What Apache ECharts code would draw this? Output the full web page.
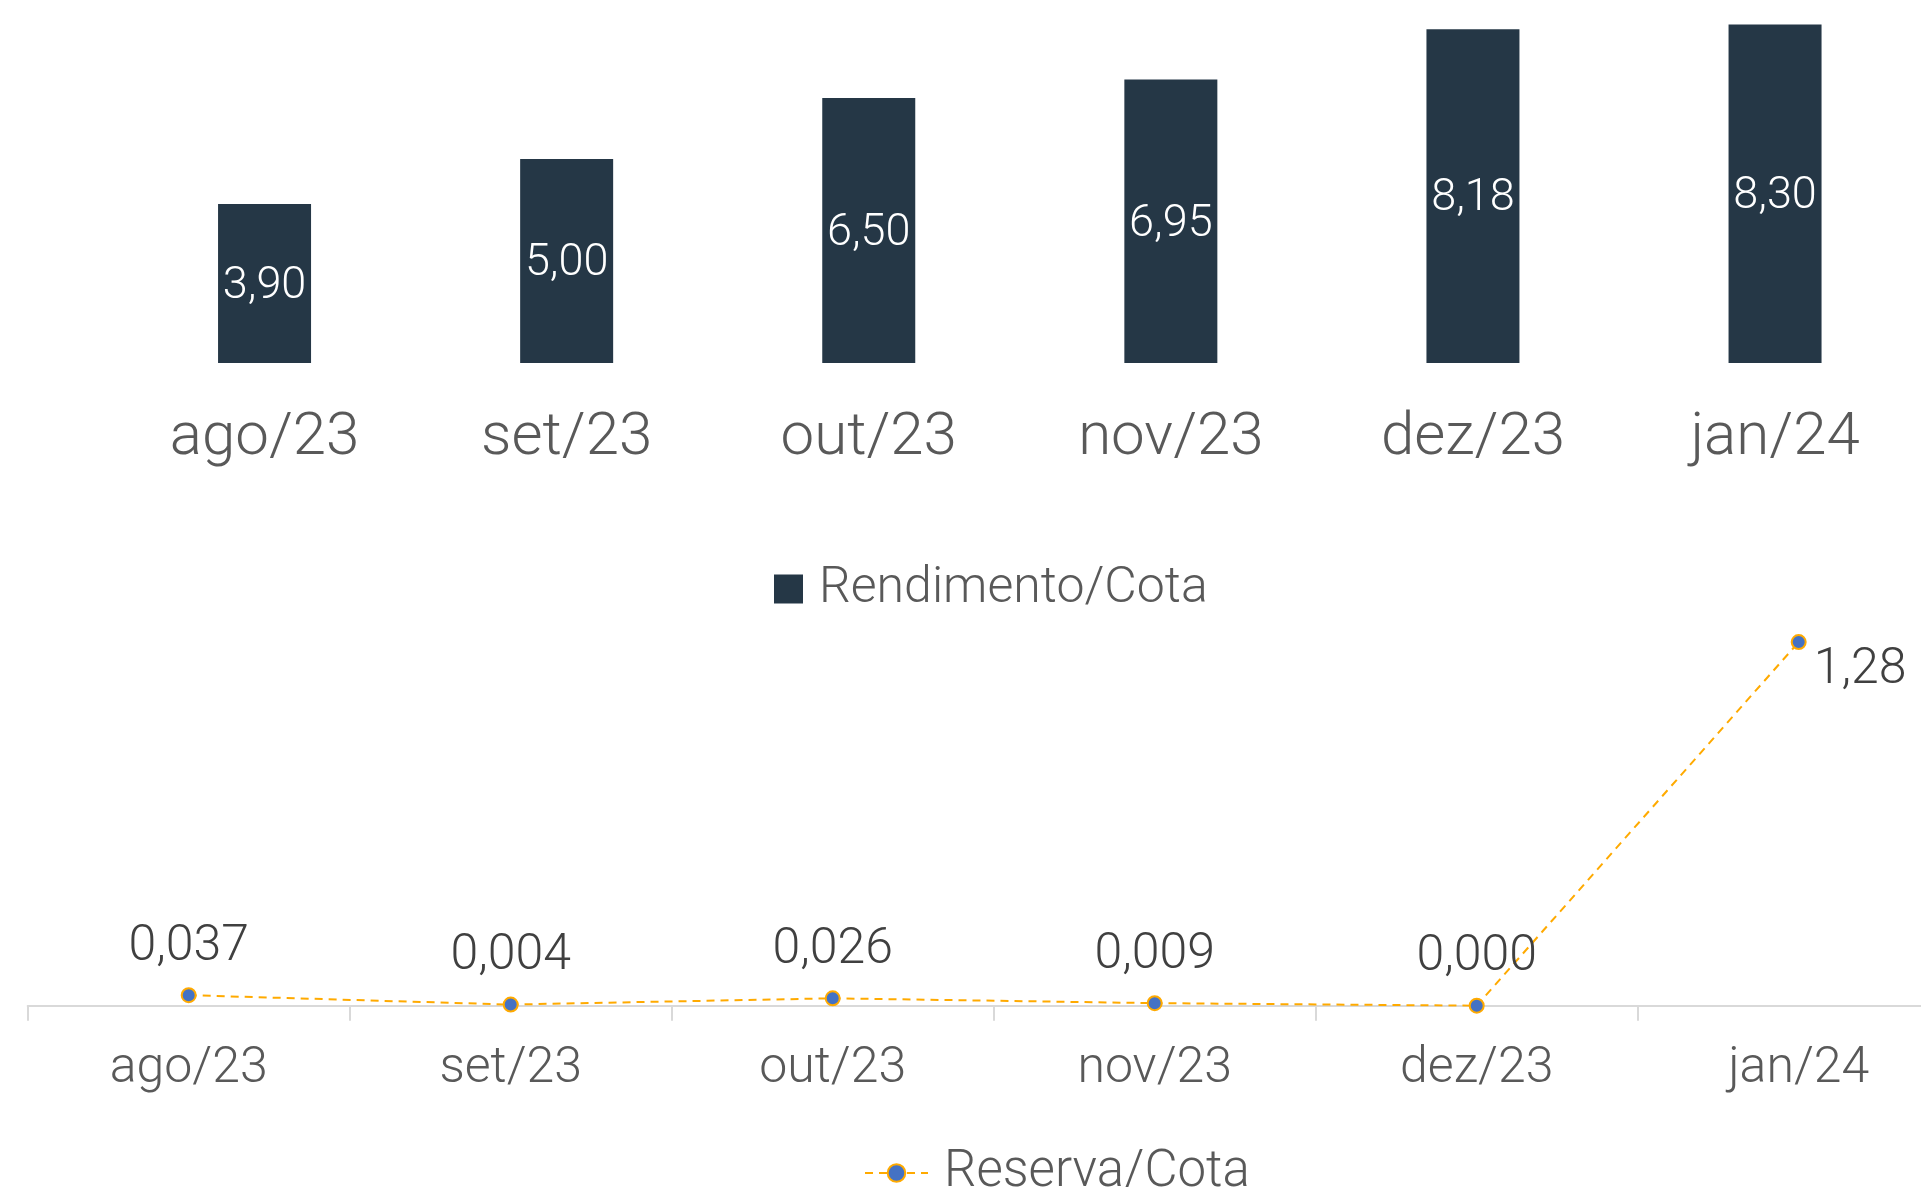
<!DOCTYPE html>
<html>
<head>
<meta charset="utf-8">
<script src="https://cdn.jsdelivr.net/npm/echarts@6/dist/echarts.min.js"></script>
<style>
  html, body { margin: 0; padding: 0; background: #fff; }
  #chart { width: 1921px; height: 1187px; }
</style>
</head>
<body>
<div id="chart"></div>
<script>
const months = ['ago/23', 'set/23', 'out/23', 'nov/23', 'dez/23', 'jan/24']
const rendimento = [3.90, 5.00, 6.50, 6.95, 8.18, 8.30]
const reserva = [0.037, 0.004, 0.026, 0.009, 0.000, 1.28]

const FONT = 'Roboto'
const ORANGE = '#FFAA00'

function fmt(v, digits) {
  return Number(v).toFixed(digits).replace('.', ',')
}

const chart = echarts.init(document.getElementById('chart'))

chart.setOption({
  animation: false,
  backgroundColor: '#ffffff',
  textStyle: { fontFamily: FONT },
  legend: [
    {
      data: ['Rendimento/Cota'],
      left: 769,
      top: 556,
      icon: 'rect',
      itemWidth: 29,
      itemHeight: 29,
      textStyle: { fontSize: 50, fontWeight: 300, color: '#595959', lineHeight: 56, padding: [0, 0, 0, 11] }
    },
    {
      data: ['Reserva/Cota'],
      left: 859,
      top: 1140,
      itemWidth: 63,
      itemHeight: 22,
      textStyle: { fontSize: 51, fontWeight: 300, color: '#595959', lineHeight: 56, padding: [0, 0, 0, 11] }
    }
  ],
  grid: [
    { left: 113.5, width: 1812.6, top: 0, height: 363, outerBoundsMode: 'none' },
    { left: 27.7, width: 1932, top: 608, height: 397.7, outerBoundsMode: 'none' }
  ],
  xAxis: [
    {
      type: 'category',
      gridIndex: 0,
      data: months,
      axisLine: { show: false },
      axisTick: { show: false },
      axisLabel: { fontSize: 60, fontWeight: 300, color: '#595959', margin: 46, lineHeight: 60 }
    },
    {
      type: 'category',
      gridIndex: 1,
      data: months,
      axisLine: { lineStyle: { color: '#d9d9d9', width: 2 } },
      axisTick: { show: true, length: 15, lineStyle: { color: '#d9d9d9', width: 2 } },
      axisLabel: { fontSize: 50, fontWeight: 300, color: '#595959', margin: 39, lineHeight: 50 }
    }
  ],
  yAxis: [
    { type: 'value', gridIndex: 0, min: 0, max: 8.9, show: false, splitLine: { show: false } },
    { type: 'value', gridIndex: 1, min: 0, max: 1.4, show: false, splitLine: { show: false } }
  ],
  series: [
    {
      name: 'Rendimento/Cota',
      type: 'bar',
      xAxisIndex: 0,
      yAxisIndex: 0,
      data: rendimento,
      barWidth: 93,
      itemStyle: { color: '#253746' },
      label: {
        show: true,
        position: 'inside',
        offset: [0, 3],
        color: '#ffffff',
        fontSize: 45,
        fontWeight: 300,
        formatter: (p) => fmt(p.value, 2)
      }
    },
    {
      name: 'Reserva/Cota',
      type: 'line',
      xAxisIndex: 1,
      yAxisIndex: 1,
      symbol: 'circle',
      symbolSize: 14,
      lineStyle: { color: ORANGE, width: 2, type: [8, 6] },
      itemStyle: { color: '#4472C4', borderColor: ORANGE, borderWidth: 2 },
      label: {
        show: true,
        position: 'top',
        distance: 15,
        color: '#404040',
        fontSize: 50,
        fontWeight: 300,
        formatter: (p) => fmt(p.value, p.value >= 1 ? 2 : 3)
      },
      data: reserva.map((v, i) =>
        i === reserva.length - 1
          ? { value: v, label: { position: 'right', distance: 7, offset: [0, 28] } }
          : v
      )
    }
  ]
})
</script>
</body>
</html>
